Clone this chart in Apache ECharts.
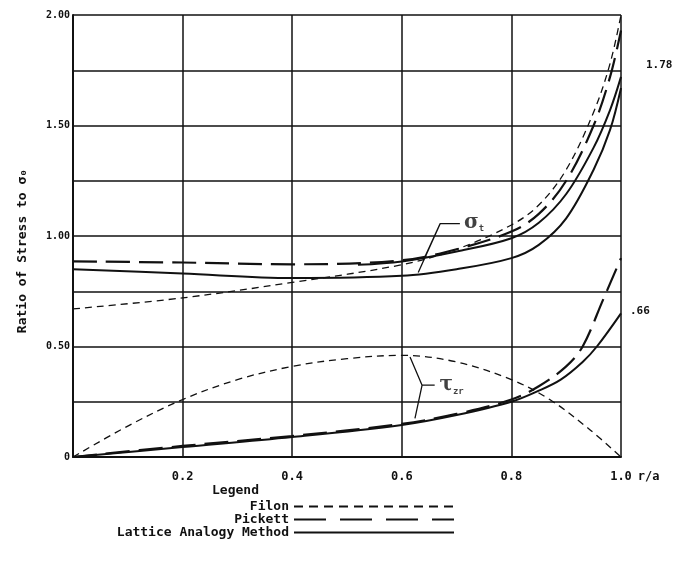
<!DOCTYPE html>
<html lang="en">
<head>
<meta charset="UTF-8">
<title>Ratio of Stress</title>
<style>
  html, body { margin: 0; padding: 0; background: #fff; }
  #chart { width: 681px; height: 579px; }
</style>
</head>
<body>
<div id="chart"></div>
<script src="https://cdn.jsdelivr.net/npm/echarts@6/dist/echarts.min.js"></script>
<script type="text/javascript">
// r/a positions and stress ratios
var filonSigmaX = [0, 0.2, 0.4, 0.6, 0.7, 0.8, 0.85, 0.9, 0.95, 0.98, 1.0];
var filonSigmaY = [0.67, 0.72, 0.79, 0.87, 0.94, 1.05, 1.14, 1.3, 1.56, 1.78, 2.0];
var pickettSigmaX = [0, 0.2, 0.4, 0.6, 0.7, 0.8, 0.85, 0.9, 0.95, 0.98, 1.0];
var pickettSigmaY = [0.885, 0.88, 0.872, 0.89, 0.94, 1.02, 1.1, 1.25, 1.5, 1.72, 1.93];
var latticeSigmaX = [0, 0.2, 0.4, 0.6, 0.7, 0.8, 0.85, 0.9, 0.95, 0.98, 1.0];
var latticeSigmaY = [0.85, 0.83, 0.81, 0.82, 0.85, 0.9, 0.96, 1.08, 1.3, 1.48, 1.67];
var lattice2SigmaX = [0.52, 0.6, 0.7, 0.8, 0.85, 0.9, 0.95, 0.98, 1.0];
var lattice2SigmaY = [0.87, 0.885, 0.93, 0.99, 1.06, 1.19, 1.4, 1.57, 1.72];

var filonTauX = [0, 0.1, 0.2, 0.3, 0.4, 0.5, 0.6, 0.7, 0.8, 0.87, 0.94, 1.0];
var filonTauY = [0, 0.14, 0.26, 0.35, 0.41, 0.445, 0.46, 0.43, 0.35, 0.26, 0.13, 0];
var pickettTauX = [0, 0.2, 0.4, 0.6, 0.7, 0.8, 0.85, 0.9, 0.93, 0.967, 1.0];
var pickettTauY = [0, 0.05, 0.095, 0.15, 0.195, 0.26, 0.32, 0.41, 0.5, 0.71, 0.9];
var latticeTauX = [0, 0.2, 0.4, 0.6, 0.7, 0.8, 0.85, 0.89, 0.93, 0.956, 1.0];
var latticeTauY = [0, 0.045, 0.09, 0.145, 0.19, 0.25, 0.3, 0.35, 0.43, 0.5, 0.65];

var xTicks = [0.2, 0.4, 0.6, 0.8, 1.0];
var yTicks = [0, 0.5, 1.0, 1.5, 2.0];

// label pointers (annotation only)
var sigmaPtrX = [0.706, 0.67, 0.642, 0.67, 0.63];
var sigmaPtrY = [1.056, 1.056, 0.905, 1.056, 0.835];
var tauPtrX = [0.615, 0.637, 0.66, 0.637, 0.624];
var tauPtrY = [0.452, 0.325, 0.325, 0.325, 0.175];

function zip(xs, ys) {
  return xs.map(function (x, i) { return [x, ys[i]]; });
}

var font = 'DejaVu Sans Mono';
var black = '#111';

var styles = {
  'Filon': { type: [7, 5], width: 1.3, legend: [9, 6] },
  'Pickett': { type: [24, 9], width: 2.2, legend: [32, 14] },
  'Lattice Analogy Method': { type: 'solid', width: 2, legend: 'solid' }
};

function curve(name, xs, ys) {
  return {
    name: name,
    type: 'line',
    data: zip(xs, ys),
    smooth: 0.35,
    showSymbol: false,
    symbol: 'none',
    silent: true,
    lineStyle: { color: black, width: styles[name].width, type: styles[name].type },
    itemStyle: { color: black }
  };
}

function pointer(xs, ys) {
  return {
    type: 'line',
    data: zip(xs, ys),
    symbol: 'none',
    silent: true,
    lineStyle: { color: black, width: 1.3 }
  };
}

var myChart = echarts.init(document.getElementById('chart'));

var legendNames = ['Filon', 'Pickett', 'Lattice Analogy Method'];
var legendTops = [500, 513, 526];

var option = {
  backgroundColor: '#fff',
  animation: false,
  grid: { left: 73, right: 60, top: 15, bottom: 122 },
  xAxis: {
    type: 'value',
    min: 0, max: 1, interval: 0.2,
    name: 'r/a',
    nameLocation: 'end',
    nameGap: 16,
    nameTextStyle: { color: black, fontFamily: font, fontWeight: 'bold', fontSize: 12, verticalAlign: 'top', padding: [14, 0, 0, 0] },
    axisLine: { lineStyle: { color: black, width: 2 } },
    axisTick: { show: false },
    splitLine: { lineStyle: { color: black, width: 1.5 } },
    axisLabel: {
      color: black, fontFamily: font, fontWeight: 'bold', fontSize: 12, margin: 14,
      formatter: function (v) { return xTicks.indexOf(+v.toFixed(1)) >= 0 ? v.toFixed(1) : ''; }
    }
  },
  yAxis: {
    type: 'value',
    min: 0, max: 2, interval: 0.25,
    name: 'Ratio of Stress to σ₀',
    nameLocation: 'middle',
    nameGap: 44,
    nameTextStyle: { color: black, fontFamily: font, fontWeight: 'bold', fontSize: 13, padding: [0, 30, 0, 0] },
    axisLine: { show: true, lineStyle: { color: black, width: 2 } },
    axisTick: { show: false },
    splitLine: { lineStyle: { color: black, width: 1.5 } },
    axisLabel: {
      color: black, fontFamily: font, fontWeight: 'bold', fontSize: 10, margin: 3,
      formatter: function (v) {
        if (yTicks.indexOf(v) < 0) return '';
        return v === 0 ? '0' : v.toFixed(2);
      }
    }
  },
  legend: legendNames.map(function (name, i) {
    return {
      data: [name],
      orient: 'vertical',
      align: 'right',
      right: 226,
      top: legendTops[i],
      itemWidth: 160,
      itemHeight: 8,
      itemGap: 0,
      padding: 0,
      selectedMode: false,
      itemStyle: { opacity: 0 },
      lineStyle: { type: styles[name].legend, width: 2 },
      textStyle: { color: black, fontFamily: font, fontWeight: 'bold', fontSize: 13 }
    };
  }),
  graphic: [
    { type: 'text', left: 212, top: 484, style: { text: 'Legend', fill: black, font: 'bold 13px "DejaVu Sans Mono"' } },
    { type: 'text', left: 646, top: 60, style: { text: '1.78', fill: black, font: 'bold 11px "DejaVu Sans Mono"' } },
    { type: 'text', left: 630, top: 306, style: { text: '.66', fill: black, font: 'bold 11px "DejaVu Sans Mono"' } }
  ],
  series: [
    curve('Filon', filonSigmaX, filonSigmaY),
    curve('Pickett', pickettSigmaX, pickettSigmaY),
    curve('Lattice Analogy Method', latticeSigmaX, latticeSigmaY),
    curve('Lattice Analogy Method', lattice2SigmaX, lattice2SigmaY),
    curve('Filon', filonTauX, filonTauY),
    curve('Pickett', pickettTauX, pickettTauY),
    curve('Lattice Analogy Method', latticeTauX, latticeTauY),
    pointer(sigmaPtrX, sigmaPtrY),
    pointer(tauPtrX, tauPtrY),
    {
      type: 'scatter',
      symbolSize: 0,
      silent: true,
      data: [[0.71, 1.06, 'σ'], [0.665, 0.325, 'τ']],
      label: {
        show: true,
        position: 'right',
        distance: 2,
        color: black,
        formatter: function (p) {
          return p.data[2] === 'σ' ? '{big|σ}{sub|t}' : '{big|τ}{sub|zr}';
        },
        rich: {
          big: { fontFamily: 'DejaVu Serif', fontSize: 20, fontWeight: 'bold', color: black },
          sub: { fontFamily: font, fontSize: 9, fontWeight: 'bold', color: black, padding: [12, 0, 0, 0] }
        }
      }
    }
  ]
};

myChart.setOption(option);
</script>
</body>
</html>
